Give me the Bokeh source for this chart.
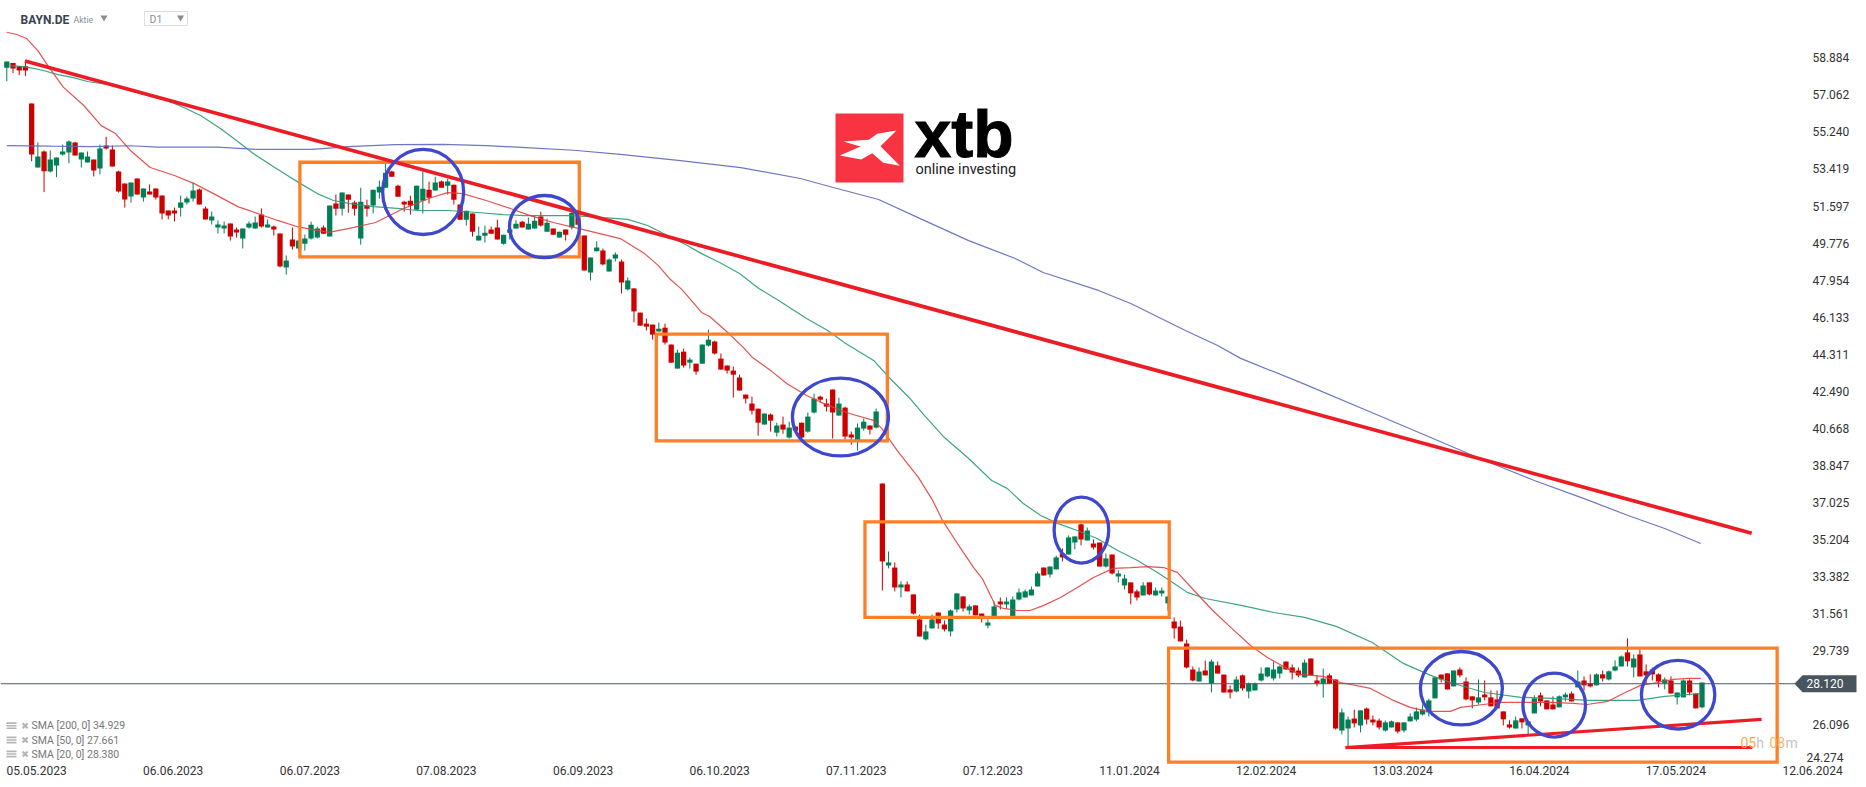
from bokeh.plotting import figure
from bokeh.embed import file_html
from bokeh.resources import INLINE
from bokeh.models import Range1d, FixedTicker, Label, PolyAnnotation, NumeralTickFormatter
from bokeh.core.properties import value

# ---------- daily candles, bar 0 = start of the window ----------
opens = [
58.40,58.63,58.47,58.47,56.64,53.49,54.28,53.29,53.59,54.13,
54.23,54.72,53.88,53.74,53.88,53.44,54.57,54.38,53.29,52.70,
52.07,52.95,52.02,52.31,52.46,52.11,51.38,51.38,51.52,51.77,
51.97,52.41,51.48,50.89,50.54,50.49,50.74,50.44,50.00,50.54,
50.49,51.18,50.54,50.59,50.25,48.58,49.95,49.51,49.75,50.00,
50.05,50.54,50.10,51.72,51.47,52.16,51.77,50.00,51.62,51.62,
52.26,52.50,53.29,52.60,51.81,51.86,51.42,51.86,52.40,52.36,
52.80,52.60,52.65,51.67,50.93,51.23,49.90,50.14,50.44,50.54,
49.75,50.29,50.49,50.83,50.44,50.49,51.08,50.34,50.49,50.05,
50.44,50.54,51.37,50.15,48.33,49.37,49.41,48.38,49.02,48.87,
47.50,47.55,46.36,45.82,45.77,45.43,45.62,44.79,43.61,44.44,
43.90,43.85,43.85,44.74,44.94,44.10,43.76,43.51,43.17,42.33,
41.89,41.64,40.86,41.35,40.46,40.86,40.22,40.76,40.95,40.51,
41.45,42.23,41.89,42.58,41.30,41.69,40.37,40.07,40.66,40.81,
40.71,37.96,33.93,33.83,32.85,33.00,32.51,31.28,30.30,30.84,
31.62,31.03,30.69,31.77,32.41,31.72,31.97,31.57,30.98,31.43,
32.16,32.02,31.43,32.26,32.36,32.46,32.90,33.83,33.49,33.74,
34.52,34.47,35.06,35.95,35.16,35.01,35.06,33.88,34.47,33.39,
32.95,33.10,32.66,32.46,33.10,32.46,32.56,32.07,31.18,30.93,
30.10,28.82,28.23,28.77,28.13,29.02,28.57,27.84,27.74,28.53,
27.74,27.79,28.28,28.48,28.38,28.62,29.21,28.92,28.77,28.43,
29.36,28.28,28.13,28.53,28.33,25.82,25.92,26.41,26.07,26.90,
26.36,26.31,25.82,25.97,26.22,25.82,26.27,26.36,26.61,26.71,
27.40,28.57,28.63,27.99,28.82,28.23,27.50,27.20,27.59,27.45,
27.35,26.76,26.12,25.92,26.42,26.07,26.66,27.55,27.30,27.10,
26.96,27.45,27.64,27.94,28.28,28.14,28.04,28.58,28.33,28.77,
28.97,29.66,28.92,29.56,28.73,28.82,28.58,28.14,28.28,27.45,
27.45,28.28,27.64,26.96]
closes = [
58.70,58.36,58.26,58.26,54.13,54.03,53.31,53.88,53.98,54.28,
54.77,54.08,54.23,54.03,53.34,54.42,54.42,53.54,52.31,51.92,
52.75,52.16,52.46,52.16,52.02,51.23,51.13,51.23,51.77,51.97,
52.36,51.67,50.94,51.08,50.69,50.64,50.10,50.30,50.49,50.74,
50.79,50.59,50.69,50.44,48.63,48.92,49.61,49.90,50.00,50.68,
50.49,50.24,51.62,51.47,52.26,51.91,51.47,51.81,51.47,52.40,
52.55,53.24,53.04,52.06,51.67,51.62,52.60,52.45,52.01,52.75,
52.50,52.80,51.91,50.93,51.37,50.34,50.14,50.29,50.24,49.95,
50.19,50.44,50.73,50.54,50.73,50.88,50.64,50.78,50.19,50.34,
50.19,51.27,50.68,48.43,49.07,49.56,48.73,48.97,49.22,47.84,
47.94,46.42,45.72,45.67,45.28,45.57,44.89,43.90,44.39,43.76,
44.05,43.46,44.79,45.03,44.35,43.56,43.51,43.31,42.53,42.13,
41.54,40.95,41.40,41.05,40.81,40.61,40.71,40.56,40.22,41.25,
42.13,42.08,41.74,41.45,41.89,40.27,40.22,40.71,41.00,40.61,
41.50,34.13,34.08,32.85,33.00,32.66,31.57,30.44,30.69,31.28,
31.08,30.79,31.72,32.56,31.82,31.92,31.48,31.38,31.13,31.92,
32.02,32.16,32.26,32.61,32.66,32.75,33.54,33.44,33.88,34.33,
34.33,35.31,35.36,35.21,35.65,34.82,33.88,34.28,33.54,33.54,
33.29,32.56,32.36,32.95,32.51,32.70,32.70,32.41,30.84,30.20,
28.92,28.28,28.72,28.53,29.21,28.62,27.69,27.69,28.33,27.89,
28.13,28.13,28.62,28.92,28.82,28.97,28.82,28.67,28.53,29.16,
28.53,28.13,28.38,28.13,25.92,26.71,26.36,26.17,26.81,26.36,
26.22,25.97,26.22,26.27,25.77,26.22,26.51,26.76,26.85,27.30,
28.43,28.33,27.84,28.77,28.53,27.35,27.30,27.45,27.45,27.01,
26.91,26.37,25.97,26.32,26.22,26.27,27.40,27.25,26.86,26.86,
27.50,27.59,27.25,28.23,28.04,27.99,28.58,28.38,28.73,28.97,
29.46,29.22,29.36,28.48,28.53,28.58,28.23,28.33,27.64,27.69,
28.28,27.69,26.91,28.18]
highs = [
58.70,58.63,58.47,58.75,56.64,54.72,54.33,54.33,53.98,54.62,
54.82,54.75,54.23,54.28,53.88,54.62,55.00,54.57,53.34,52.70,
52.75,52.95,52.46,52.66,52.46,52.11,51.38,51.52,52.11,52.07,
52.75,52.46,51.57,51.33,50.89,50.84,50.74,50.54,50.49,50.84,
51.08,51.48,50.94,50.64,50.25,49.17,50.54,49.90,50.19,50.83,
50.59,50.64,51.62,52.16,52.26,52.16,51.86,52.50,51.91,52.40,
52.85,53.67,53.34,52.65,51.86,52.11,52.60,53.29,52.80,53.04,
52.85,52.95,52.65,51.67,51.37,51.23,50.59,50.64,50.59,50.93,
50.19,50.44,50.91,50.87,51.03,51.13,51.32,50.98,50.49,50.34,
50.44,51.37,51.37,50.15,49.07,49.86,49.51,49.02,49.32,48.97,
48.09,47.55,46.36,46.07,45.77,45.87,45.82,44.79,44.54,44.59,
44.15,43.85,44.79,45.52,44.98,44.35,43.76,43.71,43.31,42.33,
42.23,41.64,41.40,41.40,40.95,41.25,41.00,40.76,40.95,41.45,
42.38,42.28,42.13,42.58,42.18,41.74,40.51,40.91,41.15,40.81,
41.64,37.96,34.62,34.08,33.15,33.15,32.51,31.52,31.02,31.52,
31.62,31.23,31.77,32.56,32.41,32.02,31.97,31.57,31.28,32.16,
32.36,32.36,32.41,32.80,32.75,32.90,33.64,33.83,33.88,34.42,
34.77,35.41,35.36,36.00,35.80,35.21,35.06,34.52,34.47,33.69,
33.49,33.10,32.75,33.11,33.10,32.85,32.85,32.41,31.38,31.23,
30.29,28.97,28.92,29.26,29.31,29.21,28.57,28.03,28.48,28.57,
28.18,28.18,28.92,28.92,29.21,29.02,29.21,29.07,28.92,29.31,
29.36,28.53,28.87,28.62,28.33,26.90,26.51,26.85,26.81,26.95,
26.56,26.41,26.31,26.31,26.22,26.22,26.66,26.95,27.10,27.38,
28.48,28.57,28.63,28.77,28.92,28.43,27.50,28.33,28.28,27.79,
27.79,26.76,26.32,26.51,26.42,26.27,27.55,27.69,27.30,27.50,
27.55,27.69,27.74,28.77,28.48,28.58,28.63,28.77,28.77,29.27,
29.51,30.35,29.56,29.81,29.07,28.92,28.63,28.43,28.48,27.69,
28.33,28.33,27.64,28.18]
lows = [
57.73,58.13,58.03,57.98,53.80,53.49,52.28,53.25,53.02,54.08,
53.70,54.08,53.49,53.74,53.05,53.15,54.38,53.54,52.26,51.52,
51.77,52.16,51.82,52.16,51.92,50.94,50.94,50.84,51.08,51.67,
51.82,51.67,50.94,50.69,50.25,50.25,49.90,50.05,49.51,50.49,
50.49,50.54,50.54,50.15,48.58,48.23,49.46,49.36,49.41,49.95,
50.00,50.24,50.10,51.13,51.13,51.27,51.13,49.70,51.08,51.23,
51.96,52.50,53.04,52.06,51.32,51.18,51.42,51.23,51.72,52.36,
52.50,52.16,51.67,50.93,50.64,50.10,49.90,49.80,50.24,49.95,
49.70,49.95,50.49,50.54,50.44,50.49,50.59,50.34,50.19,50.05,
49.90,50.44,50.68,48.43,47.94,49.37,48.68,48.38,48.87,47.30,
47.45,45.88,45.72,45.48,45.03,45.43,44.79,43.90,43.61,43.66,
43.61,43.31,43.85,44.69,44.30,43.56,43.36,42.18,42.53,41.89,
41.35,40.31,40.86,40.51,40.27,40.41,40.17,40.56,40.12,40.46,
41.40,41.94,41.50,40.17,41.30,40.12,39.87,39.58,40.56,40.37,
40.66,32.70,33.79,32.66,32.36,32.66,31.52,30.44,30.25,30.84,
30.82,30.69,30.44,31.62,31.67,31.52,31.48,31.13,30.84,31.43,
31.77,31.82,31.43,32.21,32.36,32.46,32.90,33.44,33.34,33.74,
34.13,34.47,34.72,34.92,35.16,34.72,33.88,33.83,33.49,33.10,
32.75,32.02,32.21,32.46,32.46,32.46,32.41,31.72,30.34,30.20,
28.87,28.23,28.23,28.53,27.69,28.62,27.69,27.40,27.69,27.79,
27.40,27.79,28.23,28.43,28.28,28.38,28.82,28.33,28.43,28.43,
28.53,27.99,27.44,28.13,25.87,25.63,24.99,25.97,25.73,26.12,
26.07,25.87,25.77,25.97,25.68,25.72,26.27,26.27,26.56,26.51,
27.40,28.18,27.84,27.99,28.43,27.30,26.91,27.10,27.30,27.01,
26.91,26.07,25.92,25.92,25.92,25.63,26.66,27.01,26.86,26.86,
26.96,27.25,27.25,27.94,27.79,27.94,28.04,28.23,28.28,28.73,
28.97,28.97,28.43,28.48,28.09,28.28,27.94,27.84,27.64,27.10,
27.45,27.55,26.91,26.91]

# ---------- moving averages (bar, price) ----------
sma20_x = [0,1.6,3.2,5,6.6,9.1,12.4,15.2,17.5,19.9,23.1,27,30.2,33.9,37.2,40.4,43.6,46.7,51.8,55,59.4,63.9,68.4,71,73.4,77.2,81.1,84.3,88,92.2,98.8,102.7,104.9,106.7,108.7,111.9,113.2,116.1,118.6,120.1,123,125.6,128.8,132.2,135.7,139.6,140.9,143.4,146.8,149.1,150.7,153.1,155.7,157.1,159.2,160.5,162.8,164.8,167,169.7,172.4,175,178.2,181,183.7,186.3,188.5,190.6,194.2,197.1,200.3,203,206.2,208.3,212,214.8,219.6,223.3,226,228.8,232.5,234.1,237.8,240.5,244.2,249,252.3,254.5,257.8,260.3,263.1,265.8,268.4,270.8,272.8]
sma20_y = [60.14,60.03,59.83,59.24,58.50,57.44,56.54,55.55,55.16,54.33,53.49,53.10,52.70,52.11,51.57,51.23,50.89,50.59,50.30,50.49,50.79,51.48,52.02,52.26,52.21,51.87,51.48,51.13,50.79,50.49,50.00,49.26,48.68,48.04,47.50,46.37,46.17,45.38,44.65,44.15,43.52,42.88,42.29,41.80,41.40,41.06,40.67,39.58,38.26,37.13,36.14,35.01,33.83,33.29,31.97,31.82,31.72,31.72,31.97,32.36,32.85,33.34,33.79,33.83,33.88,33.83,33.59,32.90,31.72,30.89,30.00,29.41,28.87,28.58,28.48,28.18,27.89,27.30,26.96,26.76,26.76,26.96,27.10,27.20,27.20,27.20,27.15,27.10,27.25,27.64,28.04,28.18,28.33,28.38,28.38]
sma50_x = [0.6,2.7,4.3,5.9,8.2,10.7,13,16.2,20.4,25.9,28.5,31.2,34.4,37.2,39.7,42.9,45.2,47.3,50,52.6,55.3,59,62.9,66.1,71,75.8,80,83.2,87.6,90.8,94,96.1,100,103.2,106.4,109.6,111.9,114.8,118,121.1,124.3,128.8,132.2,135.1,139.6,142.1,145.3,147.8,151,154.9,158.6,161.1,163.7,166.5,169.2,172.4,175.6,178.9,182.1,185.3,188,190.1,193,198.8,204,209,214.1,219.9,224.9,229.3,233,238,243.8,248.9,254.7,262.6,267,272.8]
sma50_y = [58.50,58.45,58.36,58.26,58.06,57.91,57.72,57.57,57.23,56.78,56.44,56.05,55.41,54.77,54.18,53.54,53.10,52.70,52.21,51.87,51.72,51.57,51.48,51.38,51.38,51.28,51.18,51.13,51.13,51.13,51.08,51.03,50.94,50.64,50.15,49.66,49.26,48.82,48.28,47.55,46.96,46.07,45.48,44.84,44.01,43.17,42.19,41.30,40.22,39.19,38.11,37.72,36.98,36.39,36.00,35.65,35.26,34.67,34.18,33.59,33.05,32.61,32.31,31.97,31.62,31.38,30.94,30.15,29.12,28.53,28.13,27.69,27.45,27.40,27.30,27.30,27.50,27.64]
sma200_x = [0,7.2,13.6,19.9,24.4,33.9,40.4,49.2,55,62.6,70.3,77.2,84.3,91.3,98.8,108.5,118.2,127.8,133.1,140.4,147.1,154.9,162.4,166.9,175.8,181,189.8,195,198.7,208.3,219.8,229.3,237.6,246,253.9,261.1,267,272.8]
sma200_y = [54.57,54.54,54.52,54.56,54.49,54.49,54.38,54.38,54.52,54.62,54.63,54.57,54.46,54.34,54.14,53.83,53.49,52.95,52.51,51.92,50.98,49.90,49.02,48.33,47.45,46.81,45.48,44.74,44.11,42.93,41.45,40.22,39.14,38.11,37.23,36.39,35.75,35.01]

# ---------- analyst's drawings on the chart (bar, price) ----------
box_left   = [47.2, 104.6, 138.2, 187.1]
box_right  = [92.2, 141.8, 187.2, 285.1]
box_top    = [53.75, 45.30, 36.08, 29.87]
box_bottom = [49.10, 40.06, 31.38, 24.27]
ell_x = [67.05, 86.6, 134.25, 173.06, 234.25, 249.2, 269.15]
ell_y = [52.29, 50.59, 41.23, 35.67, 27.90, 27.07, 27.58]
ell_w = [13.04, 11.3, 15.46, 8.79, 13.2, 10.08, 11.82]
ell_h = [4.18, 3.05, 3.83, 3.24, 3.61, 3.14, 3.37]
trend_x0 = [2.93, 215.6, 215.6]
trend_y0 = [58.73, 24.98, 24.98]
trend_x1 = [281.0, 282.6, 281.1]
trend_y1 = [35.52, 26.37, 24.98]
trend_w  = [3.7, 3.2, 3.0]

# ---------- axes ----------
date_ticks = [4.8,26.8,48.8,70.8,92.8,114.8,136.8,158.8,180.8,202.8,224.8,246.8,268.8,290.8]
date_labels = ["05.05.2023","06.06.2023","06.07.2023","07.08.2023","06.09.2023","06.10.2023",
               "07.11.2023","07.12.2023","11.01.2024","12.02.2024","13.03.2024","16.04.2024","17.05.2024","12.06.2024"]
price_ticks = [26.096,29.739,31.561,33.382,35.204,37.025,38.847,40.668,42.490,44.311,46.133,47.954,49.776,51.597,53.419,55.240,57.062,58.884]
lowest_price_label = "24.274"
last_price = 28.120
sma_legend = ["SMA [200, 0] 34.929", "SMA [50, 0] 27.661", "SMA [20, 0] 28.380"]

# the frame fills the page; both axes are pinned inside it
W, H = 1866, 787
X0, X1, Y0, Y1 = -1.014, 299.49, 23.02, 61.70
AXIS_BAR, AXIS_PRICE = 288.05, 24.10
p = figure(width=W, height=H, output_backend="svg", toolbar_location=None,
           x_range=Range1d(X0, X1), y_range=Range1d(Y0, Y1), y_axis_location="right",
           min_border_left=0, min_border_top=0, min_border_right=0, min_border_bottom=0,
           outline_line_color=None, background_fill_color="white",
           styles={"position": "absolute", "left": "0px", "top": "0px"})
p.grid.visible = False
FONT = "Roboto"
ax = p.xaxis[0]
ax.fixed_location = AXIS_PRICE
ax.ticker = FixedTicker(ticks=date_ticks)
ax.major_label_overrides = dict(zip(date_ticks, date_labels))
ax.axis_line_color = None; ax.major_tick_line_color = None; ax.minor_tick_line_color = None
ax.major_label_text_font = FONT; ax.major_label_text_font_size = "12px"
ax.major_label_text_color = "#333333"; ax.major_label_standoff = -6
ay = p.yaxis[0]
ay.fixed_location = AXIS_BAR
ay.ticker = FixedTicker(ticks=price_ticks)
ay.formatter = NumeralTickFormatter(format="0.000")
ay.axis_line_color = None; ay.major_tick_line_color = None; ay.minor_tick_line_color = None
ay.major_label_text_font = FONT; ay.major_label_text_font_size = "12px"
ay.major_label_text_color = "#333333"; ay.major_label_standoff = 11

# candles
RED, GREEN = "#cc0000", "#007f56"
bars = list(range(len(opens)))
cols = [GREEN if c >= o else RED for o, c in zip(opens, closes)]
p.segment(bars, highs, bars, lows, line_color=cols, line_width=1)
p.vbar(x=bars, width=0.85, top=[max(o, c) for o, c in zip(opens, closes)],
       bottom=[min(o, c) for o, c in zip(opens, closes)], fill_color=cols, line_color=None)

# moving averages
p.line(sma200_x, sma200_y, line_color="#5f67bd", line_width=1.2, line_alpha=0.9)
p.line(sma50_x, sma50_y, line_color="#2a9a78", line_width=1.2, line_alpha=0.9)
p.line(sma20_x, sma20_y, line_color="#e23f3f", line_width=1.2, line_alpha=0.9)

# last-price line
p.segment([X0], [last_price], [AXIS_BAR], [last_price], line_color="#4b5763", line_width=1.2)

# drawings
p.quad(left=box_left, right=box_right, top=box_top, bottom=box_bottom, fill_alpha=0,
       line_color="#ff7f27", line_width=3.3, line_join="miter")
p.segment(trend_x0, trend_y0, trend_x1, trend_y1, line_color="#ed1c24", line_width=trend_w)
p.ellipse(ell_x, ell_y, width=ell_w, height=ell_h, fill_alpha=0, line_color="#3f48cc", line_width=3.3)

# logo and furniture, placed through the same scales as the chart
bx = lambda px: X0 + px / W * (X1 - X0)
by = lambda py: Y1 - py / H * (Y1 - Y0)
p.quad(left=[bx(835)], right=[bx(903)], top=[by(113)], bottom=[by(182)], fill_color="#f93442", line_color=None)
logo_px = [896, 876.7, 868.3, 842.7, 860, 839.3, 860.7, 871.7, 882.7, 899.3, 880]
logo_py = [130, 133.3, 139.3, 141, 146, 155, 159, 152.7, 162.3, 165.3, 145.7]
p.patch([bx(v) for v in logo_px], [by(v) for v in logo_py], fill_color="white", line_color=None)

def lab(x, y, text, size, color, style="normal", align="left", baseline="middle", font=FONT, **kw):
    p.add_layout(Label(x=x, y=y, x_units="canvas", y_units="canvas", text=text, text_font=font,
                       text_font_size=size, text_color=color, text_font_style=style,
                       text_align=align, text_baseline=baseline, **kw))
lab(914, 133, "xtb", "66px", "#000000", style="bold", font="Liberation Sans",
    text_outline_color="#000000")
lab(915, 169, "online investing", "14.5px", "#222222")

# header
lab(20, 19, "BAYN.DE", "12px", "#3a4450", "bold")
lab(73, 19.5, "Aktie", "8.7px", "#8a8f94")
p.scatter([bx(103.5), bx(180)], [by(17), by(17)], marker="inverted_triangle", size=7,
          fill_color="#8c8c8c", line_color=None)
p.quad(left=[bx(144)], right=[bx(187)], top=[by(11)], bottom=[by(25)], fill_alpha=0, line_color="#dddddd", line_width=1)
lab(149, 18.5, "D1", "10.5px", "#8a8f94")

# indicator legend
for row, py in zip(sma_legend, [725.2, 739.5, 753.5]):
    lab(31, py, row, "10.5px", "#777777")
    for d in (-2.6, 0, 2.6):
        p.segment([bx(6)], [by(py + d)], [bx(16)], [by(py + d)], line_color="#b5b5b5", line_width=1.6)
    p.scatter([bx(24.6)], [by(py)], marker="x", size=7, line_color="#b5b5b5", line_width=2.2)

# countdown
lab(1740, 742, "05", "14px", "#f7a84f")
lab(1755.7, 742, "h", "14px", "#c4c4c4")
lab(1769, 742, "08", "14px", "#f7b56a")
lab(1785, 742, "m", "14px", "#c4c4c4")

# lowest price label sits a little higher than its tick, as in the platform
lab(1806, 757, lowest_price_label, "12px", "#333333")

# price tag
tag_y = H * (Y1 - last_price) / (Y1 - Y0)
p.add_layout(PolyAnnotation(xs=[1794, 1802, 1856, 1856, 1802],
                            ys=[tag_y, tag_y - 8.5, tag_y - 8.5, tag_y + 8.5, tag_y + 8.5],
                            xs_units="canvas", ys_units="canvas",
                            fill_color="#48545e", fill_alpha=1, line_color=None))
lab(1806, tag_y, f"{last_price:.3f}", "12px", "#ffffff")

open("out.html", "w").write(file_html(p, INLINE))
